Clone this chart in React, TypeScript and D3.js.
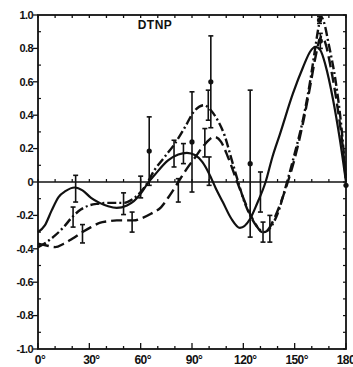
import React from "react";
import * as d3 from "d3";

// Curve 1: solid line
const solidAngles = [0, 4, 8, 12, 16, 21.5, 26, 31, 36, 41, 46, 52, 56, 60, 64, 68, 76, 82, 87, 92, 96, 100, 104, 108, 113, 118, 124, 128, 133, 137, 141.5, 149, 155, 159, 162, 165, 168, 172.5, 176.5, 180];
const solidValues = [-0.3, -0.26, -0.17, -0.09, -0.055, -0.033, -0.05, -0.095, -0.125, -0.145, -0.155, -0.14, -0.115, -0.07, -0.01, 0.04, 0.13, 0.165, 0.175, 0.16, 0.12, 0.05, -0.04, -0.12, -0.22, -0.275, -0.22, -0.13, 0.0, 0.15, 0.29, 0.53, 0.69, 0.78, 0.81, 0.79, 0.7, 0.49, 0.25, 0.0];

// Curve 2: dash-dot line
const dashDotAngles = [0, 5, 10, 15, 20, 25, 30, 35, 40, 45, 50, 55, 60, 63, 68, 74, 80, 86, 91, 97, 101, 105, 109, 113, 117, 121, 125, 129, 132, 136, 140, 145, 150, 155, 159, 162, 164, 165.5, 167, 170, 174, 177, 180];
const dashDotValues = [-0.39, -0.36, -0.32, -0.27, -0.21, -0.165, -0.14, -0.13, -0.125, -0.125, -0.125, -0.105, -0.06, -0.02, 0.07, 0.15, 0.23, 0.33, 0.42, 0.46, 0.43, 0.37, 0.28, 0.14, 0.0, -0.13, -0.22, -0.28, -0.3, -0.27, -0.19, -0.02, 0.17, 0.38, 0.6, 0.8, 0.93, 0.99, 0.96, 0.82, 0.6, 0.36, 0.02];

// Curve 3: long-dashed line
const longDashAngles = [0, 5, 10, 15, 20, 26, 31, 36, 41, 46, 51, 56, 61, 66, 72, 77, 82, 87, 92, 97, 103, 107, 111, 115, 119, 123, 127, 131, 134, 138, 142, 146, 150, 155, 159, 162, 164.5, 166, 168, 171, 175, 178, 180];
const longDashValues = [-0.37, -0.38, -0.39, -0.37, -0.34, -0.3, -0.27, -0.245, -0.235, -0.23, -0.23, -0.23, -0.215, -0.19, -0.15, -0.08, 0.0, 0.08, 0.15, 0.22, 0.27, 0.24, 0.15, 0.04, -0.07, -0.17, -0.25, -0.3, -0.29, -0.22, -0.12, 0.0, 0.14, 0.36, 0.57, 0.74, 0.85, 0.87, 0.83, 0.69, 0.45, 0.22, 0.0];

// Measured points with error bars
const pointAngles = [20.5, 22, 26, 50, 55, 60, 65, 79.5, 82, 85, 90, 97.5, 99.5, 100, 101, 124, 130, 131.5, 135.5, 164.5, 165, 180];
const pointValues = [-0.21, -0.04, -0.31, -0.13, -0.24, -0.03, 0.185, 0.17, -0.05, 0.17, 0.24, 0.235, 0.46, 0.065, 0.6, 0.11, -0.06, -0.3, -0.28, 0.97, 0.845, -0.02];
const pointErrors = [0.06, 0.08, 0.055, 0.065, 0.06, 0.065, 0.205, 0.08, 0.07, 0.06, 0.3, 0.085, 0.09, 0.085, 0.275, 0.44, 0.12, 0.06, 0.08, 0.02, 0.045, 0];
const pointFilled = [false, false, false, false, false, false, true, false, false, false, true, false, false, false, true, true, false, false, false, true, true, true];

const xTickValues = [0, 30, 60, 90, 120, 150, 180];
const xTickLabels = ["0°", "30°", "60°", "90°", "120°", "150°", "180°"];
const yTickValues = [1, 0.8, 0.6, 0.4, 0.2, 0, -0.2, -0.4, -0.6, -0.8, -1];
const yTickLabels = ["1.0", "0.8", "0.6", "0.4", "0.2", "0", "-0.2", "-0.4", "-0.6", "-0.8", "-1.0"];
const title = "DTNP";

const W = 353;
const H = 367;
const left = 38;
const right = 346;
const top = 15;
const bottom = 349;
const ink = "#111";
const font = "'Liberation Sans', Arial, sans-serif";

export default function App() {
  const x = d3.scaleLinear().domain([0, 180]).range([left, right]);
  const y = d3.scaleLinear().domain([-1, 1]).range([bottom, top]);

  const line = d3
    .line<[number, number]>()
    .x((d) => x(d[0]))
    .y((d) => y(d[1]))
    .curve(d3.curveMonotoneX);

  const zip = (a: number[], b: number[]) => a.map((v, i) => [v, b[i]] as [number, number]);

  const minorX = d3.range(0, 181, 10);
  const minorY = d3.range(-10, 11).map((v) => v / 10);

  return (
    <svg
      width={W}
      height={H}
      style={{ position: "absolute", left: 0, top: 0, background: "#fff" }}
      fontFamily={font}
    >
      <rect x={0} y={0} width={W} height={H} fill="#fff" />

      {/* curves */}
      <path d={line(zip(solidAngles, solidValues)) || ""} fill="none" stroke={ink} strokeWidth={2.2} />
      <path
        d={line(zip(dashDotAngles, dashDotValues)) || ""}
        fill="none"
        stroke={ink}
        strokeWidth={2.4}
        strokeDasharray="9 3 2 3"
      />
      <path
        d={line(zip(longDashAngles, longDashValues)) || ""}
        fill="none"
        stroke={ink}
        strokeWidth={2.4}
        strokeDasharray="11 5"
      />

      {/* zero line with small ticks */}
      <line x1={left} x2={right} y1={y(0)} y2={y(0)} stroke={ink} strokeWidth={1.5} />
      {minorX.map((d) => (
        <line key={"z" + d} x1={x(d)} x2={x(d)} y1={y(0)} y2={y(0) - 3} stroke={ink} strokeWidth={1.2} />
      ))}

      {/* frame */}
      <rect x={left} y={top} width={right - left} height={bottom - top} fill="none" stroke={ink} strokeWidth={1.8} />

      {/* bottom & top ticks */}
      {minorX.map((d) => {
        const major = d % 30 === 0;
        return (
          <g key={"bx" + d}>
            <line x1={x(d)} x2={x(d)} y1={bottom} y2={bottom - (major ? 6 : 3)} stroke={ink} strokeWidth={1.3} />
            <line x1={x(d)} x2={x(d)} y1={top} y2={top + 3} stroke={ink} strokeWidth={1.3} />
          </g>
        );
      })}

      {/* left & right ticks */}
      {minorY.map((v) => {
        const major = Math.round(v * 10) % 2 === 0;
        return (
          <g key={"yt" + v}>
            {major ? (
              <line x1={left - 5} x2={left} y1={y(v)} y2={y(v)} stroke={ink} strokeWidth={1.3} />
            ) : (
              <line x1={left} x2={left + 3} y1={y(v)} y2={y(v)} stroke={ink} strokeWidth={1.2} />
            )}
            <line x1={right} x2={right - 3} y1={y(v)} y2={y(v)} stroke={ink} strokeWidth={1.2} />
          </g>
        );
      })}

      {/* error bars */}
      {pointAngles.map((a, i) => {
        const v = pointValues[i];
        const e = pointErrors[i];
        const cx = x(a);
        return (
          <g key={"p" + i}>
            {e > 0 && (
              <>
                <line x1={cx} x2={cx} y1={y(v + e)} y2={y(v - e)} stroke={ink} strokeWidth={1.6} />
                <line x1={cx - 2.5} x2={cx + 2.5} y1={y(v + e)} y2={y(v + e)} stroke={ink} strokeWidth={1.6} />
                <line x1={cx - 2.5} x2={cx + 2.5} y1={y(v - e)} y2={y(v - e)} stroke={ink} strokeWidth={1.6} />
              </>
            )}
            {pointFilled[i] && <circle cx={cx} cy={y(v)} r={2.6} fill={ink} />}
          </g>
        );
      })}

      {/* axis labels */}
      {yTickValues.map((v, i) => (
        <text
          key={"yl" + v}
          x={left - 5}
          y={y(v)}
          dy="0.35em"
          textAnchor="end"
          fontSize={11}
          fontWeight="bold"
          letterSpacing={-0.6}
          fill={ink}
        >
          {yTickLabels[i]}
        </text>
      ))}
      {xTickValues.map((d, i) => (
        <text
          key={"xl" + d}
          x={x(d) + 2}
          y={364}
          textAnchor="middle"
          fontSize={12}
          fontWeight="bold"
          letterSpacing={-0.6}
          fill={ink}
        >
          {xTickLabels[i]}
        </text>
      ))}

      <text x={155} y={29} textAnchor="middle" fontSize={12} fontWeight="bold" fill={ink} letterSpacing={0.5}>
        {title}
      </text>
    </svg>
  );
}
